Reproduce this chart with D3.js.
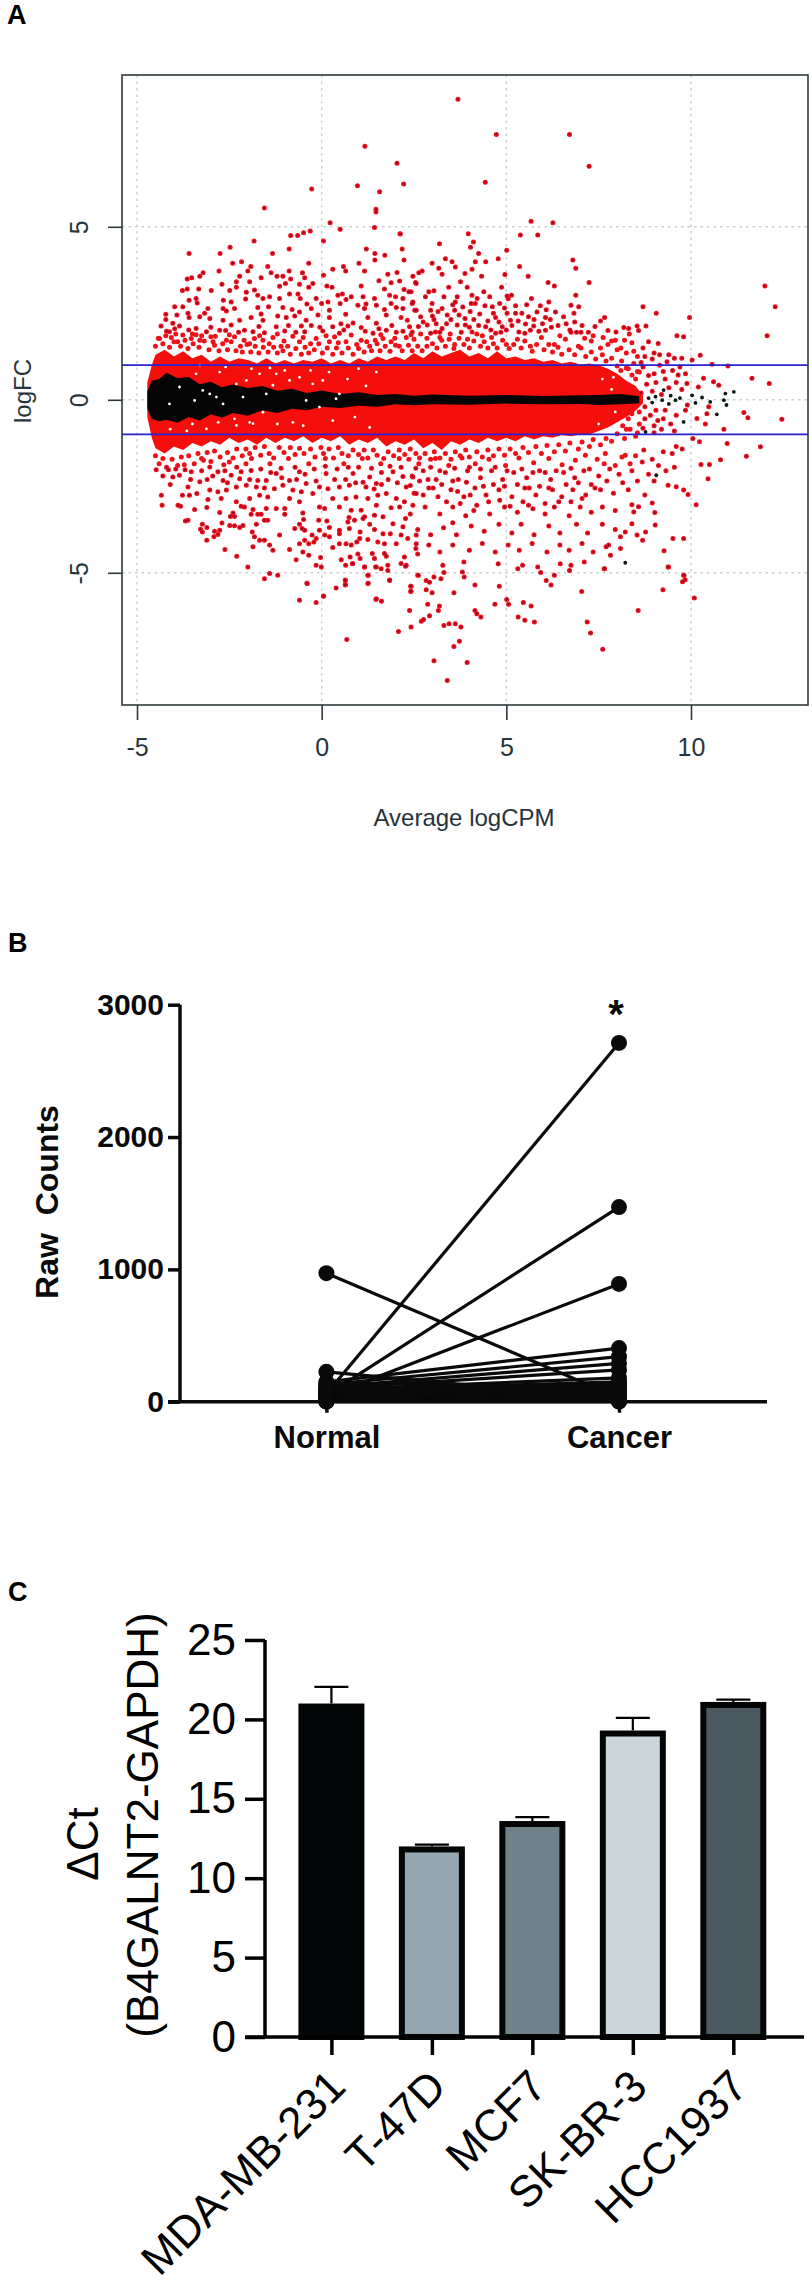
<!DOCTYPE html>
<html><head><meta charset="utf-8"><style>html,body{margin:0;padding:0;background:#fff}svg{display:block}text{font-family:"Liberation Sans",Arial,sans-serif}</style>
<script src="https://cdn.jsdelivr.net/npm/d3@7"></script></head><body><svg id="c" width="812" height="2287"></svg>
<script>
// Panel A: MA plot values
const xTicksA=[-5,0,5,10], yTicksA=[-5,0,5], foldLines=[-1,1];
const bandX=[-4.72,-4.6,-4.5,-4.25,-4,-3.75,-3.5,-3.25,-3,-2.75,-2.5,-2.25,-2,-1.75,-1.5,-1.25,-1,-0.75,-0.5,-0.25,0,0.25,0.5,0.75,1,1.25,1.5,1.75,2,2.25,2.5,2.75,3,3.25,3.5,3.75,4,4.25,4.5,4.75,5,5.25,5.5,5.75,6,6.25,6.5,6.75,7,7.25,7.5,7.75,8,8.25,8.5,8.7];
const bandTop=[0.5,1,1.3,1.45,1.25,1.4,1.2,1.3,1.1,1.25,1.1,1.2,1.15,1.05,1.2,1.05,1.15,1.05,1.15,1.1,1.2,1.05,1.15,1.05,1.2,1.1,1.25,1.15,1.25,1.15,1.35,1.2,1.4,1.25,1.35,1.45,1.25,1.35,1.2,1.4,1.2,1.25,1.15,1.2,1.1,1.15,1.05,1.1,1.02,1.05,1,0.9,0.75,0.55,0.4,0.12];
const bandBottom=[-0.5,-1.1,-1.4,-1.55,-1.35,-1.45,-1.25,-1.35,-1.2,-1.3,-1.1,-1.25,-1.15,-1.3,-1.1,-1.25,-1.1,-1.2,-1.05,-1.25,-1.1,-1.2,-1.05,-1.3,-1.15,-1.25,-1.1,-1.35,-1.2,-1.3,-1.15,-1.4,-1.25,-1.45,-1.2,-1.3,-1.15,-1.25,-1.1,-1.2,-1.1,-1.2,-1.05,-1.15,-1.05,-1.1,-1.02,-1.05,-1,-1,-0.9,-0.8,-0.65,-0.5,-0.32,-0.1];
const blackX=[-4.72,-4.6,-4.4,-4.2,-3.9,-3.6,-3.3,-3,-2.7,-2.4,-2,-1.6,-1.2,-0.8,-0.4,0,0.5,1,1.5,2,2.5,3,4,5,6,7,7.5,8.1,8.6];
const blackTop=[0.25,0.55,0.6,0.78,0.62,0.66,0.45,0.52,0.36,0.44,0.34,0.4,0.26,0.32,0.2,0.27,0.17,0.22,0.14,0.17,0.12,0.15,0.12,0.14,0.11,0.13,0.14,0.17,0.1];
const blackBottom=[-0.25,-0.55,-0.62,-0.58,-0.66,-0.5,-0.6,-0.42,-0.52,-0.38,-0.46,-0.3,-0.38,-0.26,-0.3,-0.2,-0.24,-0.17,-0.2,-0.13,-0.16,-0.13,-0.14,-0.11,-0.13,-0.12,-0.15,-0.13,-0.1];
const whiteSpecks=[[-3.4,0.75],[-3.22,0.27],[-3.03,0.17],[-2.76,0.8],[-2.31,0.46],[-2.04,0.56],[-1.68,0.75],[-1.32,0.42],[-0.87,0.56],[-0.24,0.46],[0.03,0.56],[1.48,0.8],[-3.12,-0.84],[-2.36,-0.55],[-2.31,-0.74],[-1.95,-0.65],[-1.59,-0.36],[-1.86,-0.69],[-0.78,-0.65],[-1.23,0.75],[-0.6,0.65],[-2.85,0.08],[-2.67,-0.12],[-4.12,-0.12],[-3.85,0.37],[-3.44,-0.02],[-2.13,0.08],[-1.5,0.17],[-0.42,-0.02],[-0.06,-0.21],[0.39,0.03],[0.48,0.17],[-4.1,-0.85],[-3.65,-0.9],[-3.3,1],[-1.9,0.9],[-1,0.85],[0.7,0.6],[0.9,-0.5],[1.2,0.4],[-2.6,0.95],[-1.4,0.92],[-0.3,0.85],[0.2,0.8],[1,0.9],[-3.5,-0.7],[-2.8,-0.65],[-1.2,-0.7],[-0.5,-0.75],[0.3,-0.6],[1.3,-0.8],[7.6,0.6],[7.85,0.3],[7.95,-0.35],[7.5,-0.7],[7.9,0.65]];
const blackPoints=[[11.16,0.23],[10.93,0.18],[10.89,-0.01],[10.96,-0.15],[10.7,-0.42],[10.52,-0.06],[10.3,0.07],[10.12,-0.09],[10.03,0.13],[9.8,-0.64],[9.58,-0.01],[9.26,0.28],[9.22,-0.01],[9.04,0.09],[8.85,0.05],[8.77,-0.93],[9.06,-2.18],[8.22,-4.71],[9.45,0.12],[9.4,-0.12],[9.7,0.05],[8.95,-0.08]];
const outerTop=[[3.69,8.69],[4.73,7.67],[6.71,7.67],[7.24,6.75],[1.17,7.33],[2.04,6.84],[2.22,6.24],[4.43,6.29],[0.97,6.19],[-0.27,6.09],[1.57,6.01],[1.47,5.51],[1.47,5.43],[5.67,5.16],[6.26,5.12],[0.23,5.12],[0.5,4.93],[1.43,4.98],[-0.49,4.83],[-0.31,4.88],[2.12,4.8],[3.97,4.8],[5.38,4.76],[5.85,4.76],[-1.55,5.54],[-0.65,4.75],[-0.84,4.75],[2.13,4.79],[-1.83,4.59],[0.05,4.59],[-2.48,4.41],[1.21,4.36],[-0.88,4.36],[2.18,4.36],[-3.59,4.23],[-2.75,4.23],[-1.33,4.23],[1.44,4.23],[1.71,4.18],[1.44,4.04],[2.23,4.04],[-2.41,3.95],[-2.17,3.99],[-0.35,3.95],[1.01,3.95],[-1.92,3.85],[-1.46,3.85],[0.59,3.85]];
const upperLeft=[[-2.78,3.72],[-2,3.72],[-3.21,3.67],[-3.3,3.57],[-0.88,3.72],[-0.52,3.67],[-1.37,3.67],[0.05,3.6],[0.3,3.77],[0.65,3.72],[1.16,3.72],[1.79,3.63],[2.04,3.68],[2.47,3.57],[-3.64,3.49],[-3.52,3.53],[-2.22,3.57],[-1.64,3.53],[-1.21,3.57],[-1.05,3.57],[-0.84,3.49],[-0.46,3.53],[-2.31,3.41],[-1.95,3.41],[-2.7,3.34],[-0.98,3.36],[-0.6,3.34],[-0.24,3.36],[0.14,3.29],[0.28,3.25],[1.07,3.29],[1.55,3.44],[1.88,3.38],[2.11,3.43],[2.56,3.36],[-3.77,3.16],[-3.64,3.2],[-3.33,3.2],[-2.99,3.16],[-2.49,3.16],[-2.31,3.25],[-2.04,3.11],[-1.82,3.17],[-1.14,3.28],[-0.35,3.25],[1.7,3.2],[2.23,3.19],[2.42,3.12],[-1.73,3.02],[-0.87,3.06],[-0.64,3.06],[0.44,3.02],[0.56,3.06],[0.8,2.98],[1.12,2.98],[1.43,2.93],[1.84,3.02],[2,2.98],[-3.4,2.93],[-2.06,2.91],[-1.59,2.93],[-1.41,2.98],[-1.14,2.93],[-0.58,2.93],[-0.15,2.93],[2.2,2.93],[-3.59,2.88],[-3.37,2.8],[-2.66,2.88],[-2.45,2.83],[-0.4,2.77],[0,2.78],[0.17,2.83],[0.5,2.78],[0.66,2.9],[0.98,2.73],[1.2,2.77],[1.48,2.73],[1.88,2.78],[2.47,2.83],[-3.98,2.69],[-3.76,2.69],[-3.08,2.64],[-2.67,2.64],[-2.36,2.64],[-1.73,2.67],[-1.44,2.69],[-1.05,2.67],[-0.8,2.61],[-0.28,2.64],[0.21,2.59],[1.16,2.64],[1.7,2.61],[2.2,2.64],[2.56,2.59],[-4.22,2.47],[-3.92,2.45],[-3.62,2.5],[-3.17,2.5],[-2.58,2.57],[-1.64,2.48],[-1.19,2.42],[-0.6,2.54],[-0.1,2.45],[0.65,2.47],[2.02,2.67],[-4.22,2.32],[-4.03,2.21],[-3.59,2.38],[-3.3,2.4],[-3.03,2.35],[-2.67,2.3],[-2.22,2.3],[-1.91,2.38],[-1.59,2.3],[-0.96,2.38],[-0.73,2.42],[-0.42,2.3],[0.21,2.38],[1.25,2.38],[1.75,2.45],[2.15,2.38],[-4.35,2.13],[-3.85,2.13],[-3.4,2.06],[-2.45,2.16],[-1.23,2.11],[-0.55,2.13],[0.3,2.11],[0.71,2.13],[1.48,2.21],[2.38,2.11],[1.07,2.09],[-4.12,1.97],[-3.76,1.87],[-3.12,1.97],[-2.76,2.01],[-2.09,2.01],[-1.86,1.97],[-1.55,1.94],[-1,1.99],[-0.46,1.97],[0.03,1.99],[0.48,1.92],[0.8,1.87],[1.39,1.92],[1.75,2.01],[2.02,1.95],[-4.39,1.77],[-4.07,1.8],[-3.53,1.77],[-3.3,1.72],[-2.94,1.68],[-2.58,1.72],[-2.36,1.82],[-1.82,1.77],[-1.59,1.72],[-1.32,1.8],[-0.78,1.84],[-0.6,1.68],[-0.15,1.77],[0.21,1.68],[0.66,1.68],[1.07,1.72],[1.66,1.77],[1.88,1.68],[2.29,1.8],[-3.9,1.68],[-2.2,1.55],[-1.1,1.55],[0.4,1.5],[1.3,1.55],[2.1,1.55]];
const upperDense=[[-4.2,1.98],[-3.98,2.05],[-3.6,2.02],[-3.5,1.9],[-3.25,1.85],[-3,2.1],[-2.88,1.84],[-2.6,2],[-2.5,1.88],[-2.25,1.95],[-2.1,1.72],[-1.95,1.62],[-1.7,2.12],[-1.68,1.85],[-1.42,1.62],[-1.2,1.9],[-1.02,1.7],[-0.9,2.15],[-0.7,1.95],[-0.5,1.8],[-0.3,1.62],[-0.28,2.15],[-0.05,2.1],[0.12,1.85],[0.35,1.82],[0.52,2.2],[0.6,2.02],[0.85,2.22],[0.95,1.6],[1.18,1.98],[1.22,1.68],[1.5,1.62],[1.55,2.05],[1.6,1.88],[1.9,2.15],[1.98,1.78],[2.2,1.98],[2.32,2.3],[2.42,1.88],[2.62,2.12],[2.68,1.9],[2.75,2.25],[2.95,1.92],[3,2.42],[3.1,2.2],[3.15,2.55],[3.2,1.95],[3.38,2.2],[3.48,1.9],[3.5,2.32],[3.55,2.75],[3.72,2.45],[3.78,1.95],[3.82,2.68],[3.88,2.35],[4,2.1],[4.02,2.55],[4.05,2.78],[4.25,2.15],[4.28,2.48],[4.35,1.85],[4.42,2.72],[4.5,2.28],[4.55,2.98],[4.58,2.02],[4.65,2.5],[4.8,2.25],[4.82,2.78],[4.85,1.95],[4.95,2.65],[5,2.02],[5.05,2.92],[5.15,2.15],[5.25,2.72],[5.32,2.28],[5.42,2.5],[5.5,1.92],[5.55,2.75],[5.6,2.4],[5.75,2.32],[5.88,1.98],[5.92,2.72],[5.98,2.2],[6.08,2.6],[6.22,2.1],[6.4,2.15],[6.45,1.85],[6.55,2.4],[6.62,2.2],[6.72,2.02],[6.85,2.25],[7.05,2.15],[7.12,1.78],[7.22,1.95],[7.35,1.85],[7.4,2.12],[7.62,1.8],[7.75,1.6],[7.95,1.72],[8,1.45],[8.2,1.72],[8.25,1.35],[8.45,1.4],[8.55,1.25],[8.75,1.25],[8.85,1.68],[8.95,1.18],[9.15,1.3],[9.35,1.1],[9.55,1.2]];
const edgeUp=[[-4.5,1.55],[-4.42,1.78],[-4.3,1.62],[-4.22,1.85],[-4.12,1.52],[-4,1.68],[-3.95,1.9],[-3.82,1.55],[-3.7,1.72],[-3.62,1.48],[-3.48,1.62],[-3.4,1.88],[-3.32,1.52],[-3.18,1.7],[-3.05,1.45],[-3,1.82],[-2.9,1.58],[-2.78,1.42],[-2.68,1.62],[-2.55,1.45],[-2.45,1.68],[-2.32,1.42],[-2.15,1.38],[-2.02,1.6],[-1.92,1.38],[-1.8,1.55],[-1.7,1.35],[-1.58,1.52],[-1.45,1.38],[-1.3,1.52],[-1.2,1.35],[-1.05,1.42],[-0.92,1.55],[-0.85,1.32],[-0.7,1.48],[-0.55,1.32],[-0.45,1.52],[-0.35,1.35],[-0.2,1.45],[-0.08,1.62],[0.02,1.35],[0.15,1.5],[0.3,1.32],[0.45,1.65],[0.55,1.35],[0.72,1.5],[0.85,1.32],[1,1.48],[1.15,1.38],[1.35,1.42],[1.45,1.72],[1.58,1.42],[1.72,1.55],[1.85,1.4],[2,1.58],[2.18,1.42],[2.35,1.58],[2.45,1.42],[2.6,1.55],[2.72,1.42],[2.85,1.78],[3,1.62],[3.12,1.5],[3.25,1.72],[3.35,1.55],[3.45,1.75],[3.58,1.48],[3.72,1.78],[3.85,1.6],[4,1.5],[4.12,1.7],[4.2,1.9],[4.4,1.68],[4.5,1.5],[4.65,1.62],[4.75,1.5],[4.9,1.72],[5.08,1.48],[5.2,1.6],[5.4,1.5],[5.5,1.7],[5.7,1.4],[5.82,1.6],[6.02,1.45],[6.15,1.6],[6.25,1.38],[6.4,1.52],[6.5,1.32],[6.7,1.45],[6.85,1.3],[7.02,1.5],[7.15,1.25],[7.3,1.38],[7.42,1.18],[7.6,1.3],[7.7,1.12],[7.85,1.2],[8,0.98],[8.12,1.12],[8.25,0.92],[8.45,1.05],[8.6,0.8],[8.65,1.08]];
const edgeDown=[[-4.5,-1.62],[-4.4,-1.85],[-4.3,-1.7],[-4.2,-1.95],[-4.05,-1.72],[-3.95,-2],[-3.8,-1.65],[-3.72,-1.88],[-3.6,-1.62],[-3.45,-1.85],[-3.35,-1.55],[-3.25,-1.7],[-3.1,-1.52],[-3,-1.78],[-2.9,-1.48],[-2.75,-1.65],[-2.65,-1.88],[-2.55,-1.52],[-2.4,-1.68],[-2.3,-1.42],[-2.15,-1.62],[-2.05,-1.42],[-1.95,-1.55],[-1.8,-1.38],[-1.65,-1.6],[-1.55,-1.35],[-1.42,-1.55],[-1.3,-1.68],[-1.15,-1.38],[-1.02,-1.52],[-0.85,-1.38],[-0.72,-1.58],[-0.6,-1.4],[-0.48,-1.55],[-0.3,-1.42],[-0.18,-1.65],[-0.02,-1.38],[0.05,-1.55],[0.2,-1.42],[0.32,-1.68],[0.45,-1.38],[0.55,-1.55],[0.72,-1.62],[0.85,-1.45],[1,-1.58],[1.15,-1.45],[1.25,-1.68],[1.4,-1.45],[1.5,-1.6],[1.68,-1.7],[1.8,-1.5],[1.95,-1.62],[2.1,-1.45],[2.25,-1.58],[2.4,-1.42],[2.55,-1.55],[2.65,-1.68],[2.8,-1.55],[2.95,-1.72],[3.05,-1.5],[3.2,-1.68],[3.35,-1.55],[3.5,-1.72],[3.62,-1.5],[3.75,-1.62],[3.9,-1.45],[4,-1.65],[4.2,-1.5],[4.35,-1.65],[4.5,-1.45],[4.65,-1.62],[4.8,-1.42],[4.95,-1.6],[5.1,-1.42],[5.25,-1.55],[5.45,-1.38],[5.6,-1.52],[5.8,-1.35],[5.95,-1.55],[6.1,-1.32],[6.3,-1.5],[6.42,-1.3],[6.6,-1.48],[6.72,-1.25],[6.95,-1.42],[7.05,-1.22],[7.25,-1.35],[7.35,-1.15],[7.55,-1.3],[7.7,-1.12],[7.85,-1.2],[8,-0.98],[8.2,-1.12],[8.35,-0.85],[8.5,-1.05],[8.7,-0.82]];
const upperRight=[[3.19,4.51],[4.11,4.56],[4.03,4.41],[5.01,4.32],[4.25,4.23],[3.35,4.08],[3.53,3.99],[3.62,3.84],[2.99,3.95],[4.16,3.99],[4.44,3.99],[4.78,4.08],[6.8,4.04],[6.88,3.8],[5.36,3.85],[3.17,3.8],[3.26,3.63],[3.88,3.65],[2.72,3.72],[2.63,3.67],[4.07,3.77],[4.33,3.57],[4.96,3.62],[5.59,3.57],[6.13,3.39],[6.3,3.29],[7.24,3.39],[2.54,3.39],[3.76,3.41],[3.44,3.25],[3.94,3.25],[4.39,3.12],[4.87,3.25],[2.36,3.12],[2.9,3.12],[3.04,3.15],[2.81,2.98],[3.31,2.98],[3.67,2.98],[4.07,3.02],[4.21,2.93],[5.02,3],[5.14,3.02],[6.88,3.02],[5.68,2.93],[2.45,2.78],[2.99,2.78],[3.62,2.83],[4.16,2.78],[6.15,2.83],[6.75,2.73],[6.96,2.69],[8.7,2.69],[9.06,2.5],[9.96,2.38],[4.62,2.69],[5.02,2.5],[5.25,2.5],[5.83,2.54],[6.33,2.54],[6.06,2.38],[6.83,2.5],[2.52,2.59],[2.95,2.59],[3.26,2.64],[3.6,2.59],[7.66,2.38],[7.55,2.28],[2.68,2.4],[3.04,2.32],[3.4,2.45],[4.12,2.32],[4.71,2.38],[5.11,2.3],[5.52,2.19],[6.19,2.32],[3.67,2.16],[3.89,2.16],[4.44,2.11],[2.86,2.16],[3.26,2.06],[5.74,2.13],[4.89,2.11],[8.18,2.09],[8.31,2.06],[8.54,2.13],[8.78,2.13],[7.97,1.96],[2.45,1.96],[3.08,1.96],[4.07,1.96],[4.71,1.92],[5.34,1.96],[5.65,2.01],[6.06,2.01],[6.75,1.95],[6.9,1.95],[7.02,1.95],[7.75,2],[9.62,1.85],[9.8,1.82],[12.06,1.85],[12,3.29],[12.28,2.69],[8.33,1.9],[8.58,2],[2.5,1.75],[2.85,1.55],[3.2,1.8],[3.6,1.6],[3.95,1.75],[4.3,1.55],[4.6,1.8],[5,1.6],[5.3,1.75],[5.65,1.55],[5.95,1.8],[6.3,1.6],[6.6,1.75],[6.95,1.55],[7.3,1.7],[7.55,1.5],[7.85,1.7],[8.1,1.5],[8.4,1.65],[8.7,1.5],[9,1.35],[9.4,1.3],[9.75,1.2],[9.11,1.63],[10.25,1.29],[10.57,1.03],[11,0.98],[10.03,1.15],[10.34,0.62],[10.61,0.52],[10.75,0.42],[9.89,0.47],[10.2,0.37],[11.65,0.62],[12.12,0.47]];
const centreRight=[[8.3,0.9],[8.5,0.6],[8.7,0.95],[8.8,0.45],[9,0.75],[9.15,1],[9.3,0.6],[9.5,0.85],[9.7,0.95],[9.85,0.75],[9.6,0.5],[8.4,-0.4],[8.6,-0.7],[8.9,-0.45],[8.75,-0.2],[9.1,-0.6],[9.3,-0.3],[9.45,-0.7],[9.6,-0.45],[9.85,-0.3],[8.25,-0.85],[8.55,-0.95],[9,-0.95],[9.2,-0.85],[9.55,-0.9],[8.1,0.85],[8.35,0.35],[8.95,0.25],[9.4,0.35],[9.75,0.3],[9.9,-0.15],[9.2,0.15],[8.65,0.2],[8.45,-0.15],[8.15,-0.75],[10.48,-0.2],[10.16,-0.54],[10.39,-0.7],[10.43,-0.4],[12.46,-0.56],[11.43,-0.37],[11.54,-0.52],[8.55,0.82],[8.85,0.7],[9.05,0.5],[8.4,0.72],[9.25,0.82],[9.65,0.72],[8.3,-0.55],[8.75,-0.55],[9,-0.75],[9.25,-0.55],[8.6,-0.35],[9.05,-0.3]];
const lowerLeft=[[-4.48,-2.02],[-4.34,-2.76],[-4.32,-3.05],[-3.89,-3.05],[-3.82,-3.08],[-3.44,-3.17],[-3.11,-3.11],[-2.76,-3.26],[-3.62,-3.48],[-3.69,-3.5],[-3.23,-3.6],[-3.28,-3.74],[-3.23,-3.82],[-3.11,-4.06],[-2.9,-3.8],[-2.76,-3.77],[-2.92,-3.96],[-2.81,-3.89],[-3.11,-3.69],[-2.7,-3.56],[-2.49,-3.63],[-2.36,-3.64],[-2.22,-3.69],[-2.13,-3.63],[-2.47,-3.37],[-2.36,-3.37],[-2.4,-3.27],[-2.62,-4.33],[-2.3,-4.52],[-2,-4.83],[-1.86,-4.25],[-1.68,-4.06],[-1.55,-4.06],[-1.82,-3.96],[-1.88,-3.82],[-1.77,-3.6],[-1.55,-3.48],[-1.46,-3.48],[-1.73,-3.31],[-1.91,-3.31],[-1.64,-3.31],[-1.5,-3.14],[-1.86,-3.17],[-2.09,-3.1],[-2.18,-3.08],[-2.31,-2.95],[-1.95,-2.85],[-1.68,-2.76],[-1.46,-2.81],[-1.23,-3.14],[-1,-3.14],[-1,-3.31],[-1.41,-4.2],[-1.32,-4.35],[-1.14,-3.91],[-0.87,-4.33],[-1.55,-5.17],[-1.41,-5.02],[-1.19,-5.07],[-0.69,-4.62],[-0.51,-4.4],[-0.35,-4.49],[-0.6,-4.16],[-0.46,-4.06],[-0.35,-4.16],[-0.21,-4.11],[-0.26,-3.91],[-0.15,-4.01],[-0.73,-3.72],[-0.6,-3.6],[-0.53,-3.72],[-0.46,-3.77],[-0.49,-3.46],[-0.51,-3.27],[-0.08,-3.48],[-0.06,-3.77],[0.14,-3.5],[0.21,-3.69],[0.08,-3.91],[0.21,-3.96],[0.48,-3.77],[0.48,-3.87],[0.3,-4.27],[0.48,-4.16],[0.66,-4.16],[0.8,-4.2],[0.75,-3.72],[0.71,-3.53],[0.74,-3.4],[1.04,-3.82],[0.95,-4.11],[1.03,-4.01],[1.25,-4.04],[0.53,-4.62],[0.77,-4.54],[0.84,-4.73],[0.65,-4.78],[0.98,-4.46],[1.04,-4.59],[1.16,-4.83],[-0.15,-4.78],[-0.01,-4.83],[-0.03,-4.56],[1.25,-5.07],[0.64,-5.22],[0.64,-5.34],[1.25,-5.31],[0.39,-5.44],[-0.39,-5.31],[0.05,-5.67],[-0.6,-5.79],[1.48,-5.75],[2.42,-5.39],[2.42,-5.53],[1.84,-5.22],[2.6,-5.07],[1.48,-4.83],[1.61,-4.88],[1.79,-4.78],[1.79,-4.93],[2.15,-4.73],[2.27,-4.81],[2.24,-4.54],[2.6,-4.46],[1.37,-4.44],[1.43,-4.59],[1.7,-4.44],[1.75,-4.52],[1.52,-4.11],[1.7,-4.16],[2.02,-4.16],[2.33,-4.01],[2.56,-4.16],[1.86,-3.87],[2.15,-3.91],[2.56,-3.91],[1.43,-3.75],[1.66,-3.87],[1.3,-3.6],[1.93,-3.58],[2.2,-3.67],[2.27,-3.43],[1.12,-3.43],[0.89,-3.48],[1.43,-3.34],[1.66,-3.38],[-3.85,-2.18],[-4.03,-2.23],[-3.53,-2.08],[-3.3,-2.37],[-3.62,-2.52],[-3.77,-2.76],[-3.58,-2.76],[-3.38,-2.71],[-3.03,-2.61],[-3.08,-2.88],[-2.81,-2.66],[-2.72,-2.85],[-2.58,-2.61],[-2.31,-2.52],[-2.67,-2.33],[-2.45,-2.18],[-3.03,-1.94],[-2.81,-2.08],[-2.18,-2.08],[-1.91,-2.04],[-1.73,-2.33],[-1.5,-2.33],[-2.04,-2.47],[-1.77,-2.52],[-1.28,-2.57],[-1.05,-2.47],[-0.78,-2.61],[-0.55,-2.66],[-0.87,-2.85],[-0.6,-2.95],[-0.24,-2.71],[-0.06,-2.52],[0.17,-2.57],[-0.06,-3.1],[0.08,-3.14],[0.48,-3.1],[0.8,-3.19],[1.07,-3.19],[1.16,-3.38],[0.3,-2.85],[0.66,-2.85],[0.93,-2.81],[1.25,-2.85],[1.52,-2.76],[1.48,-3.05],[1.75,-2.71],[1.88,-3.12],[2.11,-3.1],[2.24,-2.95],[2.02,-2.85],[2.47,-3.05],[2.56,-2.71],[0.48,-2.52],[0.75,-2.47],[1.2,-2.52],[1.48,-2.42],[2.29,-2.52],[-0.42,-2.42],[-1.23,-2.13],[-0.87,-2.33],[-0.6,-2.08],[0.12,-2.13],[0.85,-2.13],[1.3,-2.23],[1.93,-2.08],[2.47,-2.23],[-3.9,-1.9],[-3.2,-1.75],[-2.5,-1.8],[-1.9,-1.7],[-1.4,-1.85],[-0.9,-1.7],[-0.35,-1.85],[0.1,-1.7],[0.6,-1.85],[1.1,-1.7],[1.6,-1.85],[2.1,-1.7]];
const lowerDense=[[-4.3,-2.2],[-4.15,-2.02],[-4.1,-2.45],[-3.7,-2.02],[-3.55,-2.3],[-3.25,-2.05],[-3.1,-2.3],[-2.95,-2.2],[-2.62,-2.05],[-2.55,-2.4],[-2.3,-1.95],[-2.22,-2.28],[-2.05,-1.85],[-1.95,-2.3],[-1.65,-2],[-1.55,-2.55],[-1.38,-2.1],[-1.1,-1.98],[-1.08,-2.25],[-0.72,-1.95],[-0.68,-2.3],[-0.45,-2.15],[-0.2,-2],[-0.15,-2.35],[0.1,-1.92],[0.35,-2.3],[0.42,-2],[0.65,-2.3],[0.72,-1.95],[0.92,-2.4],[1,-1.95],[1.12,-2.38],[1.35,-1.98],[1.42,-2.58],[1.62,-2.1],[1.62,-2.45],[1.8,-2.3],[1.85,-1.92],[2.05,-2.4],[2.15,-1.95],[2.2,-2.22],[2.4,-2.48],[2.55,-1.98],[2.65,-2.35],[2.75,-2.75],[2.88,-2.3],[2.95,-1.95],[3.02,-2.55],[3.2,-2.05],[3.25,-2.45],[3.38,-2.95],[3.55,-2.35],[3.6,-1.98],[3.68,-2.65],[3.75,-3],[3.92,-2.38],[4,-1.95],[4.02,-2.75],[4.12,-3.2],[4.3,-2],[4.38,-2.5],[4.52,-2.95],[4.65,-2.45],[4.7,-1.95],[4.82,-2.9],[4.95,-2.5],[5.02,-2.05],[5.1,-3.08],[5.3,-2.45],[5.42,-2],[5.45,-2.95],[5.62,-2.55],[5.72,-2.1],[5.72,-3.15],[5.9,-2.5],[6.05,-2.1],[6.05,-3],[6.25,-2.6],[6.35,-2.05],[6.42,-2.95],[6.62,-2.45],[6.75,-1.98],[6.75,-2.95],[6.95,-2.4],[7.05,-2.85],[7.25,-2],[7.3,-2.45],[7.55,-2.6],[7.65,-1.85],[7.72,-2.35],[7.95,-1.9],[8.15,-2.4],[8.22,-1.6],[8.35,-1.85],[8.55,-2.35],[8.68,-1.8],[9.12,-1.9],[9.25,-1.5],[9.32,-2.05],[9.6,-1.35]];
const lowerRight=[[3.4,-8.11],[3.04,-7.54],[3.94,-7.59],[0.68,-6.93],[3.58,-7.13],[3.73,-6.98],[2.08,-6.7],[2.42,-6.57],[2.76,-6.35],[2.7,-6.4],[2.92,-6.24],[3.31,-6.52],[3.45,-6.47],[3.62,-6.47],[3.77,-6.57],[2.38,-6.09],[2.87,-5.91],[3.19,-5.96],[3.16,-6.09],[4.15,-6.09],[4.2,-6.18],[4.31,-6.28],[4.69,-5.91],[5.01,-5.77],[5.06,-5.91],[5.46,-5.86],[5.67,-5.96],[5.32,-6.28],[5.5,-6.37],[5.76,-6.42],[7.19,-6.42],[7.28,-6.74],[7.61,-7.21],[8.57,-6.09],[7.04,-5.54],[9.24,-5.49],[9.77,-5.26],[9.84,-5.2],[9.81,-5.07],[10.09,-5.73],[9.39,-4.83],[7.65,-4.88],[0.05,-5.68],[-0.15,-5.86],[-0.4,-5.3],[0.64,-5.35],[0.64,-5.21],[1.26,-5.07],[1.26,-5.3],[1.84,-5.21],[1.47,-5.77],[1.62,-5.82],[2.41,-5.39],[2.41,-5.54],[2.83,-5.49],[2.99,-5.58],[3.58,-5.58],[2.83,-5.22],[2.92,-5.27],[2.62,-5.07],[3.04,-5.12],[3.23,-5.17],[3.31,-4.99],[3.81,-4.98],[3.86,-5.12],[4.15,-5.35],[4.81,-5.39],[6.08,-5.22],[6.21,-5.35],[6.3,-5.07],[5.93,-4.99],[6.71,-4.93],[5.31,-4.88],[5.44,-4.78],[5.85,-4.83],[6.46,-4.74],[6.75,-4.78],[7.11,-4.69],[4.78,-4.74],[3.85,-4.69],[3.28,-4.78],[2.29,-4.78],[1.46,-4.83],[1.16,-4.83],[0.83,-4.74],[10.98,-1.26],[10.89,-0.85],[11.88,-1.36],[11.5,-1.63],[10.8,-1.73],[10.5,-1.87],[10.27,-1.87],[10.46,-2.28],[10.23,-1.21],[10.05,-1.12],[10.14,-3.03],[9.92,-2.74],[9.8,-2.61],[9.6,-2.51],[9.38,-2.47],[9.8,-4.01],[9.51,-4.01],[9.38,-4.83],[9.27,-4.36],[9.8,-5.07],[9.03,-3.62],[9.02,-3.26],[8.95,-2.98],[8.4,-3.03],[8.58,-3.09],[8.45,-3.24],[8.4,-3.58],[8.22,-3.82],[8.77,-3.82],[8.54,-3.91],[8.69,-4.06],[8.09,-4.3],[8.09,-3.96],[7.82,-4.49],[7.66,-4.88],[7.77,-4.2],[2.36,-1.72],[2.63,-1.85],[3.08,-1.7],[3.44,-1.9],[3.8,-1.68],[4.16,-1.85],[4.53,-1.72],[4.98,-1.9],[5.34,-1.68],[5.74,-1.82],[6.15,-1.7],[6.51,-1.88],[6.87,-1.75],[7.14,-1.6],[7.46,-1.72],[7.68,-1.55],[8.13,-1.65],[8.5,-1.62],[8.72,-1.45],[8.95,-1.72],[9.49,-1.55],[9.76,-1.42],[2.45,-2.2],[2.75,-2.05],[3.1,-2.3],[3.35,-2.1],[3.7,-2.3],[3.95,-2.05],[4.3,-2.25],[4.6,-2.05],[4.9,-2.3],[5.2,-2.1],[5.55,-2.25],[5.9,-2.05],[6.2,-2.3],[6.55,-2.1],[6.85,-2.25],[7.1,-2.05],[7.5,-2.2],[7.8,-2],[8.05,-2.15],[8.4,-2.05],[8.85,-2.15],[9,-2.35],[9.55,-1.95],[2.5,-2.7],[2.9,-2.55],[3.15,-2.8],[3.5,-2.6],[3.85,-2.8],[4.15,-2.55],[4.45,-2.75],[4.8,-2.6],[5.15,-2.8],[5.5,-2.55],[5.8,-2.75],[6.15,-2.55],[6.5,-2.8],[6.8,-2.6],[7.15,-2.75],[7.4,-2.55],[7.9,-2.7],[8.3,-2.6],[8.75,-2.75],[2.4,-3.3],[2.8,-3.1],[3.2,-3.3],[3.55,-3.1],[3.9,-3.35],[4.2,-3.05],[4.55,-3.3],[4.95,-3.1],[5.3,-3.25],[5.6,-3.05],[6.05,-3.3],[6.3,-3.1],[6.7,-3.35],[7,-3.1],[7.3,-3.25],[7.6,-3.1],[7.95,-3.2],[2.6,-3.75],[2.95,-3.9],[3.3,-3.7],[3.55,-3.55],[3.65,-3.9],[4.05,-3.65],[4.4,-3.8],[4.8,-3.6],[5.15,-3.85],[5.4,-3.6],[5.75,-3.9],[6.15,-3.65],[6.45,-3.85],[6.9,-3.6],[7.2,-3.85],[7.6,-3.6],[7.95,-3.75],[2.55,-4.3],[2.9,-4.2],[3.2,-4.4],[3.55,-4.2],[4,-4.35],[4.35,-4.15],[4.7,-4.4],[5.05,-4.2],[5.35,-4.35],[5.7,-4.15],[6.1,-4.4],[6.45,-4.2],[6.7,-4.35],[7.05,-4.15],[7.35,-4.4],[7.7,-4.25]];
// Panel B
const yTicksB=[0,1000,2000,3000], groupsB=["Normal","Cancer"];
const normalCounts=[971,226,60,50,40,150,130,110,100,90,85,70,65,60,55,50,45,40,35,30,28,25,22,20,18,15,12,10,8,5,3,2,0,120,95,75,140,105,80,12,6];
const cancerCounts=[30,20,2711,1471,890,405,340,290,240,180,150,130,110,100,90,80,70,60,55,50,45,40,35,30,25,20,15,12,10,8,5,3,0,60,40,20,115,85,70,125,135];
// Panel C
const cellLines=["MDA-MB-231","T-47D","MCF7","SK-BR-3","HCC1937"];
const deltaCt=[21,12,13.6,19.3,21.1];
const deltaCtErr=[22.05,12.12,13.85,20.1,21.25];
const barColors=["#030606","#94a6b0","#6f8289","#cbd6da","#4a5860"];
const yTicksC=[0,5,10,15,20,25];

const svg=d3.select("#c");
const label=(t,x,y)=>svg.append("text").attr("x",x).attr("y",y).attr("font-size",27).attr("font-weight",700).attr("fill","#000").text(t);
label("A",7,24);label("B",8,952);label("C",8,1601);

// --- A
const ax=d3.scaleLinear().domain([-5,10]).range([137,691]);
const ay=d3.scaleLinear().domain([-5,5]).range([572.8,226.8]);
const A=svg.append("g");
const L=122,R=808,T=75,B=705;
const gridG=A.append("g").attr("stroke","#c9cfd0").attr("stroke-width",1.4).attr("stroke-dasharray","2.5 4");
xTicksA.forEach(v=>gridG.append("line").attr("x1",ax(v)).attr("x2",ax(v)).attr("y1",T).attr("y2",B));
yTicksA.forEach(v=>gridG.append("line").attr("y1",ay(v)).attr("y2",ay(v)).attr("x1",L).attr("x2",R));
const envelope=(xs,top,bot)=>d3.area().x((d,i)=>ax(xs[i])).y0((d,i)=>ay(bot[i])).y1((d,i)=>ay(top[i]))(xs);
A.append("path").attr("d",envelope(bandX,bandTop,bandBottom)).attr("fill","#f40f0c");
const reds=[].concat(outerTop,upperLeft,upperDense,edgeUp,upperRight,centreRight,lowerLeft,lowerDense,edgeDown,lowerRight);
A.append("g").selectAll("circle").data(reds).join("circle").attr("cx",d=>ax(d[0])).attr("cy",d=>ay(d[1])).attr("r",2.5).attr("fill","#f01018");
A.append("g").selectAll("circle").data(reds.filter(d=>Math.abs(d[1])>1.9||d[0]>8.6)).join("circle").attr("cx",d=>ax(d[0])).attr("cy",d=>ay(d[1])).attr("r",1.05).attr("fill","#7d0a38");
A.append("path").attr("d",envelope(blackX,blackTop,blackBottom)).attr("fill","#050505");
A.append("g").selectAll("circle").data(blackPoints).join("circle").attr("cx",d=>ax(d[0])).attr("cy",d=>ay(d[1])).attr("r",1.9).attr("fill","#0a1a14");
A.append("g").selectAll("circle").data(whiteSpecks).join("circle").attr("cx",d=>ax(d[0])).attr("cy",d=>ay(d[1])).attr("r",1.4).attr("fill","#fff");
A.append("g").selectAll("line").data(foldLines).join("line").attr("x1",L).attr("x2",R).attr("y1",d=>ay(d)).attr("y2",d=>ay(d)).attr("stroke","#2a22d0").attr("stroke-width",1.7);
A.append("rect").attr("x",L).attr("y",T).attr("width",R-L).attr("height",B-T).attr("fill","none").attr("stroke","#2f3a3c").attr("stroke-width",1.6);
const inkA="#26343c";
const axA=A.append("g").attr("transform",`translate(0,${B})`).call(d3.axisBottom(ax).tickValues(xTicksA).tickSize(15).tickFormat(String));
axA.select(".domain").remove();
axA.selectAll("line").attr("stroke","#2f3a3c").attr("stroke-width",1.6);
axA.selectAll("text").attr("y",33).attr("dy","0.71em").attr("font-size",25).attr("fill",inkA).attr("font-family",'"Liberation Sans"');
const ayA=A.append("g").attr("transform",`translate(${L},0)`).call(d3.axisLeft(ay).tickValues(yTicksA).tickSize(14).tickFormat(String));
ayA.select(".domain").remove();
ayA.selectAll("line").attr("stroke","#2f3a3c").attr("stroke-width",1.6);
ayA.selectAll("text").attr("x",0).attr("y",0).attr("dy",0).attr("text-anchor","middle").attr("font-size",25).attr("fill",inkA).attr("font-family",'"Liberation Sans"').attr("transform","translate(-34,0) rotate(-90)");
A.append("text").attr("x",464).attr("y",826).attr("text-anchor","middle").attr("font-size",24).attr("fill",inkA).text("Average logCPM");
A.append("text").attr("transform","translate(31,391) rotate(-90)").attr("text-anchor","middle").attr("font-size",24).attr("fill",inkA).text("logFC");

// --- B
const bx=d3.scalePoint().domain(groupsB).range([326.4,619]);
const by=d3.scaleLinear().domain([0,3000]).range([1401.7,1004.7]);
const G=svg.append("g");
const pairs=normalCounts.map((n,i)=>[n,cancerCounts[i]]);
G.append("g").selectAll("line").data(pairs).join("line").attr("x1",bx("Normal")).attr("x2",bx("Cancer")).attr("y1",d=>by(d[0])).attr("y2",d=>by(d[1])).attr("stroke","#0a0a0a").attr("stroke-width",3.2);
G.append("g").selectAll("circle").data(normalCounts).join("circle").attr("cx",bx("Normal")).attr("cy",d=>by(d)).attr("r",8).attr("fill","#0a0a0a");
G.append("g").selectAll("circle").data(cancerCounts).join("circle").attr("cx",bx("Cancer")).attr("cy",d=>by(d)).attr("r",8).attr("fill","#0a0a0a");
const byAxis=G.append("g").attr("transform","translate(180,0)").call(d3.axisLeft(by).tickValues(yTicksB).tickSize(12).tickFormat(String));
byAxis.select(".domain").attr("stroke","#0a0a0a").attr("stroke-width",3.5).attr("d",`M0,${by(3000)}V${by(0)}`);
byAxis.selectAll("line").attr("stroke","#0a0a0a").attr("stroke-width",3.5);
byAxis.selectAll("text").attr("x",-16).attr("font-size",30).attr("font-weight",700).attr("fill","#0a0a0a").attr("font-family",'"Liberation Sans"');
const bxAxis=G.append("g").attr("transform",`translate(0,${by(0)})`).call(d3.axisBottom(bx).tickSize(11));
bxAxis.select(".domain").attr("stroke","#0a0a0a").attr("stroke-width",3.5).attr("d","M168,0H767");
bxAxis.selectAll("line").attr("stroke","#0a0a0a").attr("stroke-width",3.5);
bxAxis.selectAll("text").attr("y",24).attr("dy","0.71em").attr("font-size",31).attr("font-weight",700).attr("fill","#0a0a0a").attr("font-family",'"Liberation Sans"');
G.append("text").attr("transform","translate(58,1202) rotate(-90)").attr("text-anchor","middle").attr("font-size",32).attr("font-weight",700).attr("fill","#0a0a0a").attr("xml:space","preserve").text("Raw  Counts");
G.append("text").attr("x",bx("Cancer")-3).attr("y",1028).attr("text-anchor","middle").attr("font-size",40).attr("font-weight",700).attr("fill","#0a0a0a").text("*");

// --- C
const cx=d3.scalePoint().domain(cellLines).range([331.4,733.3]);
const cy=d3.scaleLinear().domain([0,25]).range([2037,1640]);
const C=svg.append("g");
const bw=60,sw=6;
C.append("g").selectAll("line").data(cellLines).join("line").attr("x1",d=>cx(d)).attr("x2",d=>cx(d)).attr("y1",(d,i)=>cy(deltaCtErr[i])).attr("y2",(d,i)=>cy(deltaCt[i])).attr("stroke","#000").attr("stroke-width",2.2);
C.append("g").selectAll("line").data(cellLines).join("line").attr("x1",d=>cx(d)-17).attr("x2",d=>cx(d)+17).attr("y1",(d,i)=>cy(deltaCtErr[i])).attr("y2",(d,i)=>cy(deltaCtErr[i])).attr("stroke","#000").attr("stroke-width",2.2);
C.append("g").selectAll("rect").data(cellLines).join("rect").attr("x",d=>cx(d)-bw/2).attr("width",bw).attr("y",(d,i)=>cy(deltaCt[i])+sw/2).attr("height",(d,i)=>cy(0)-cy(deltaCt[i])-sw/2).attr("fill",(d,i)=>barColors[i]).attr("stroke","#040606").attr("stroke-width",sw);
const cyAxis=C.append("g").attr("transform","translate(265,0)").call(d3.axisLeft(cy).tickValues(yTicksC).tickSize(20).tickFormat(String));
cyAxis.select(".domain").attr("stroke","#000").attr("stroke-width",3.5).attr("d",`M0,${cy(25)}V${cy(0)}`);
cyAxis.selectAll("line").attr("stroke","#000").attr("stroke-width",3.5);
cyAxis.selectAll("text").attr("x",-29).attr("font-size",44).attr("fill","#000").attr("font-family",'"Liberation Sans"');
const cxAxis=C.append("g").attr("transform",`translate(0,${cy(0)})`).call(d3.axisBottom(cx).tickSize(18));
cxAxis.select(".domain").attr("stroke","#000").attr("stroke-width",3.5).attr("d","M245,0H804");
cxAxis.selectAll("line").attr("stroke","#000").attr("stroke-width",3.5);
cxAxis.selectAll("text").attr("font-size",44).attr("fill","#000").attr("font-family",'"Liberation Sans"').attr("text-anchor","end").attr("y",0).attr("dy",0).attr("x",0).attr("transform","translate(16,52) rotate(-45)");
C.append("text").attr("transform","translate(140,1825) rotate(-90)").attr("y",18).attr("text-anchor","middle").attr("font-size",44).attr("fill","#000").text("(B4GALNT2-GAPDH)");
C.append("text").attr("transform","translate(82,1844) rotate(-90)").attr("y",16).attr("text-anchor","middle").attr("font-size",44).attr("fill","#000").text("ΔCt");
</script></body></html>
